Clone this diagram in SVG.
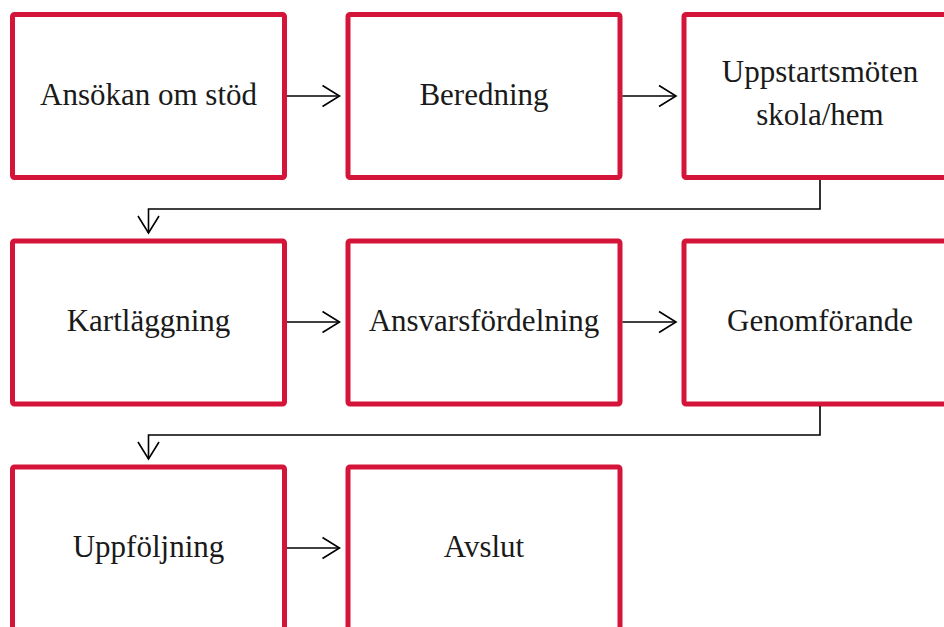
<svg xmlns="http://www.w3.org/2000/svg" width="944" height="627" viewBox="0 0 944 627">
<defs>
<style>
.box{fill:#ffffff;stroke:#d41438;stroke-width:5}
.lbl{font-family:"Liberation Serif","Times New Roman",serif;font-size:31px;fill:#1a1a1a;text-anchor:middle}
.con{fill:none;stroke:#000000;stroke-width:1.6}
</style>
<marker id="arr" viewBox="0 0 20 24" markerWidth="20" markerHeight="24" refX="18" refY="12" orient="auto" markerUnits="userSpaceOnUse">
<path d="M1,1.5 L18,12 L1,22.5" fill="none" stroke="#000000" stroke-width="1.6"/>
</marker>
</defs>
<rect width="944" height="627" fill="#ffffff"/>
<g id="n1"><rect class="box" x="12.5" y="14.5" width="272" height="163" rx="2"/><text class="lbl" x="148.5" y="105">Ansökan om stöd</text></g>
<g id="n2"><rect class="box" x="348" y="14.5" width="272" height="163" rx="2"/><text class="lbl" x="484" y="105">Beredning</text></g>
<g id="n3"><rect class="box" x="684" y="14.5" width="272" height="163" rx="2"/><text class="lbl" x="820" y="82">Uppstartsmöten</text><text class="lbl" x="820" y="125">skola/hem</text></g>
<g id="n4"><rect class="box" x="12.5" y="241" width="272" height="163" rx="2"/><text class="lbl" x="148.5" y="331">Kartläggning</text></g>
<g id="n5"><rect class="box" x="348" y="241" width="272" height="163" rx="2"/><text class="lbl" x="484" y="331">Ansvarsfördelning</text></g>
<g id="n6"><rect class="box" x="684" y="241" width="272" height="163" rx="2"/><text class="lbl" x="820" y="331">Genomförande</text></g>
<g id="n7"><rect class="box" x="12.5" y="467" width="272" height="163" rx="2"/><text class="lbl" x="148.5" y="557">Uppföljning</text></g>
<g id="n8"><rect class="box" x="348" y="467" width="272" height="163" rx="2"/><text class="lbl" x="484" y="557">Avslut</text></g>
<g id="connectors">
<path class="con" marker-end="url(#arr)" d="M287,96 L339.5,96"/>
<path class="con" marker-end="url(#arr)" d="M622.5,96 L676,96"/>
<path class="con" marker-end="url(#arr)" d="M820,180 L820,209 L148.5,209 L148.5,233"/>
<path class="con" marker-end="url(#arr)" d="M287,322 L339.5,322"/>
<path class="con" marker-end="url(#arr)" d="M622.5,322 L676,322"/>
<path class="con" marker-end="url(#arr)" d="M820,406 L820,435 L148.5,435 L148.5,459"/>
<path class="con" marker-end="url(#arr)" d="M287,548 L339.5,548"/>
</g>
</svg>
